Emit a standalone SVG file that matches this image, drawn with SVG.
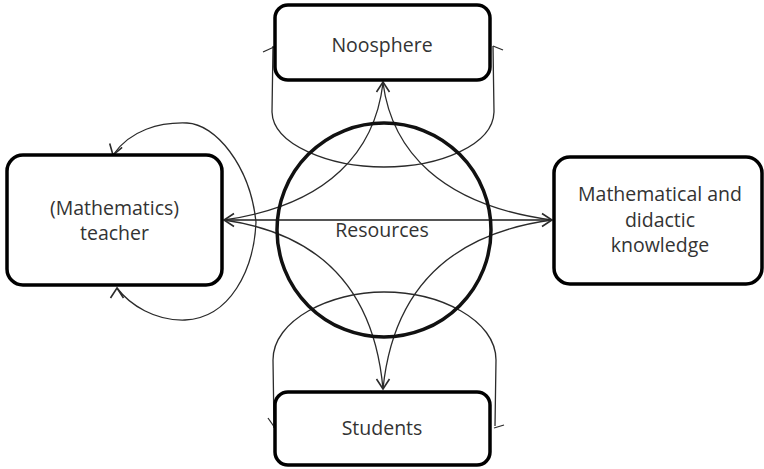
<svg xmlns="http://www.w3.org/2000/svg" width="764" height="469" viewBox="0 0 764 469">
  <style>
    .box { fill: #ffffff; stroke: #000000; stroke-width: 3.5; }
    .link { fill: none; stroke: #2b2b2b; stroke-width: 1.3; }
    .axis { fill: none; stroke: #555555; stroke-width: 1.8; }
    .head { fill: none; stroke: #2b2b2b; stroke-width: 1.6; stroke-linejoin: miter; }
    .label { font-family: "Open Sans", "Noto Sans", "Liberation Sans", sans-serif; font-size: 19.5px; fill: #333333; text-anchor: middle; }
  </style>
  <defs>
    <!-- open V arrowhead, tip at origin, pointing along +x -->
    <path id="vhead" d="M-10,-6.5 L0,0 L-10,6.5"/>
  </defs>
  <rect width="764" height="469" fill="#ffffff"/>

  <g id="connectors">
    <!-- straight link teacher <-> knowledge -->
    <path class="axis" d="M224,220 L552,220"/>
    <!-- concave curves around the resources circle -->
    <path class="link" d="M383,83 C375,150 330,205 224,220"/>
    <path class="link" d="M383,83 C392,150 440,205 552,220"/>
    <path class="link" d="M224,220 C330,235 375,300 383,389"/>
    <path class="link" d="M552,220 C440,235 392,300 383,389"/>
    <!-- noosphere self-loop -->
    <path class="link" d="M273,46 L272,112 C273,145 330,167 384,167 C440,167 493,145 494,112 L493,46"/>
    <path class="link" d="M263,52 L274,47"/>
    <path class="link" d="M493,46 L503,50"/>
    <!-- students self-loop -->
    <path class="link" d="M274,428 L273,360 C273,320 330,292 384,292 C440,292 496,320 496,360 L495,426"/>
    <path class="link" d="M268,418 L275,428"/>
    <path class="link" d="M494,428 L504,425"/>
    <!-- teacher self-loop -->
    <path class="link" d="M113,155 C130,130 160,122 187,123 C215,124 250,165 256,222 C254,270 230,318 185,320 C155,321 130,305 117,288"/>
    <!-- arrowheads -->
    <use href="#vhead" class="head" transform="translate(224,220) rotate(180)"/>
    <use href="#vhead" class="head" transform="translate(552,220)"/>
    <use href="#vhead" class="head" transform="translate(383,82) rotate(-90)"/>
    <use href="#vhead" class="head" transform="translate(383,389) rotate(90)"/>
    <use href="#vhead" class="head" transform="translate(113,155) rotate(107)"/>
    <use href="#vhead" class="head" transform="translate(117,288) rotate(-90)"/>
  </g>

  <g id="resources">
    <circle cx="384" cy="230" r="107" fill="none" stroke="#111111" stroke-width="3.5"/>
    <text class="label" x="382" y="237">Resources</text>
  </g>

  <g id="noosphere">
    <rect class="box" x="275" y="5" width="215" height="75" rx="13"/>
    <text class="label" x="382" y="52">Noosphere</text>
  </g>

  <g id="teacher">
    <rect class="box" x="7" y="155" width="215" height="130" rx="16"/>
    <text class="label" x="114.5" y="215">(Mathematics)</text>
    <text class="label" x="114.5" y="240">teacher</text>
  </g>

  <g id="knowledge">
    <rect class="box" x="554" y="157" width="208" height="127" rx="16"/>
    <text class="label" x="660" y="201">Mathematical and</text>
    <text class="label" x="660" y="226.5">didactic</text>
    <text class="label" x="660" y="252">knowledge</text>
  </g>

  <g id="students">
    <rect class="box" x="275" y="392" width="215" height="73" rx="13"/>
    <text class="label" x="382" y="435">Students</text>
  </g>
</svg>
